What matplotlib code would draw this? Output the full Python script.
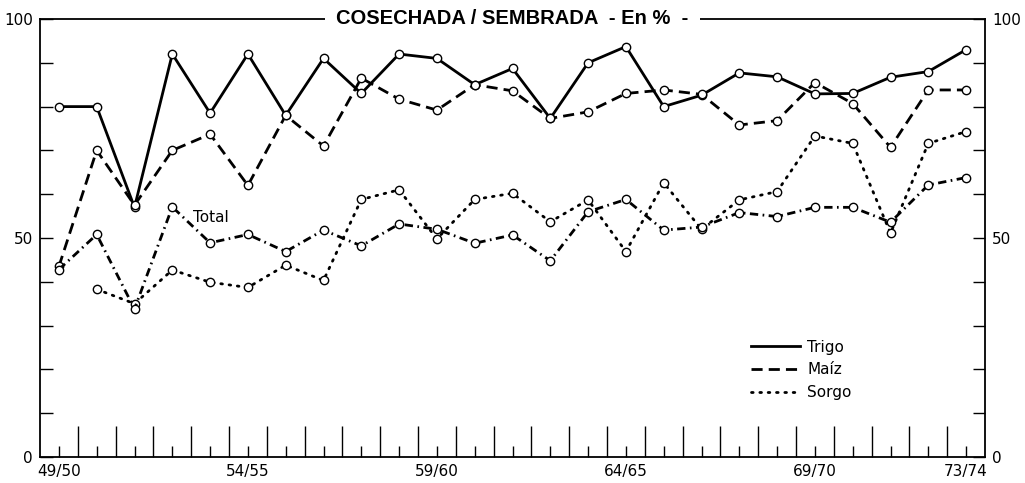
import matplotlib
matplotlib.use("Agg")
import matplotlib.pyplot as plt
from matplotlib.lines import Line2D

# campañas 49/50 ... 73/74
campanas = ["49/50", "50/51", "51/52", "52/53", "53/54", "54/55", "55/56", "56/57",
            "57/58", "58/59", "59/60", "60/61", "61/62", "62/63", "63/64", "64/65",
            "65/66", "66/67", "67/68", "68/69", "69/70", "70/71", "71/72", "72/73", "73/74"]
etiquetas_x = ["49/50", "54/55", "59/60", "64/65", "69/70", "73/74"]

# cosechada / sembrada, en %
trigo = [80, 80, 57, 92, 78.5, 92, 78, 91, 83, 92, 91, 85, 88.7, 77.3, 90, 93.7,
         80, 82.6, 87.7, 86.8, 82.9, 83, 86.7, 88, 93]
maiz = [43.5, 70, 57.5, 70, 73.7, 62, 78, 71, 86.5, 81.7, 79.2, 85, 83.6, 77.3, 78.8, 83,
        83.8, 82.8, 75.8, 76.8, 85.5, 80.7, 70.7, 83.8, 83.8]
sorgo = [None, 38.3, 35, 42.7, 39.9, 38.7, 43.8, 40.3, 58.8, 61, 49.8, 58.8, 60.2, 53.7,
         58.7, 46.9, 62.6, 52, 58.7, 60.6, 73.3, 71.6, 51.1, 71.6, 74.3]
total = [42.8, 50.8, 33.8, 57.1, 48.9, 50.8, 46.9, 51.8, 48.2, 53.2, 52, 48.8, 50.7, 44.8,
         56, 58.8, 51.8, 52.5, 55.8, 54.9, 57, 57, 53.6, 62.1, 63.8]

x = list(range(len(campanas)))
xs = [i for i, v in zip(x, sorgo) if v is not None]
ys = [v for v in sorgo if v is not None]

fig = plt.figure(figsize=(10.25, 4.83), dpi=100)
ax = fig.add_axes([40 / 1025, 1 - 457 / 483, 945 / 1025, 438 / 483])

mk = dict(marker="o", markersize=6, markerfacecolor="white", markeredgecolor="black",
          markeredgewidth=1.0, color="black", lw=2)
ax.plot(x, trigo, linestyle="-", **mk)
ax.plot(x, maiz, linestyle=(0, (4, 2.2)), **mk)
ax.plot(xs, ys, linestyle=(0, (0.6, 2.4)), dash_capstyle="round", **mk)
ax.plot(x, total, linestyle=(0, (3, 1.6, 0.6, 1.6)), **mk)

ax.set_xlim(-0.5, 24.5)
ax.set_ylim(0, 100)

# ejes
ax.set_xticks(x)
ax.set_xticklabels([c if c in etiquetas_x else "" for c in campanas], fontsize=11)
ax.set_xticks([i + 0.5 for i in x[:-1]], minor=True)
ax.tick_params(axis="x", which="major", direction="in", length=8, width=1, pad=5)
ax.tick_params(axis="x", which="minor", direction="in", length=22, width=1)

ax.set_yticks([0, 50, 100])
ax.set_yticks([10, 20, 30, 40, 60, 70, 80, 90], minor=True)
ax.tick_params(axis="y", which="both", direction="in", length=9, width=1,
               left=True, right=True, labelleft=True, labelright=True, labelsize=11, pad=5)
for s in ax.spines.values():
    s.set_linewidth(1.3)

ax.text(0.5, 1.0, "COSECHADA / SEMBRADA  - En %  -", transform=ax.transAxes,
        ha="center", va="center", fontsize=14.5, fontweight="bold",
        family="Liberation Sans",
        bbox=dict(facecolor="white", edgecolor="none", pad=8), zorder=10)

ax.text(3.55, 54.6, "Total", fontsize=11, va="center", ha="left")

handles = [Line2D([], [], color="black", lw=2, linestyle="-"),
           Line2D([], [], color="black", lw=2, linestyle=(0, (4, 2.2))),
           Line2D([], [], color="black", lw=2, linestyle=(0, (0.6, 2.4)), dash_capstyle="round")]
ax.legend(handles, ["Trigo", "Maíz", "Sorgo"], loc="center left",
          bbox_to_anchor=(0.752, 0.199), frameon=False, fontsize=11,
          handlelength=3.2, handletextpad=0.5, labelspacing=0.5, borderpad=0,
          borderaxespad=0)

fig.savefig("out.png", dpi=100)
